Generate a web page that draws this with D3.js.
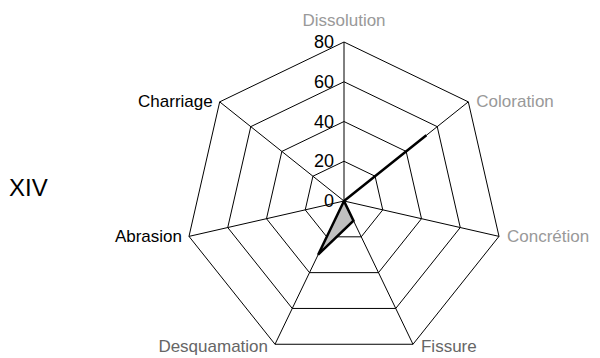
<!DOCTYPE html>
<html><head><meta charset="utf-8">
<script src="https://cdn.jsdelivr.net/npm/d3@7"></script>
<style>body{margin:0;background:#fff}svg{display:block;font-family:"Liberation Sans",Arial,sans-serif}</style>
</head><body><svg id="c" width="600" height="358"></svg>
<script>
const categories = ["Dissolution","Coloration","Concrétion","Fissure","Desquamation","Abrasion","Charriage"];
const values = [0, 53, 0, 11, 30, 0, 0];
const tickValues = [0, 20, 40, 60, 80];
const labelColors = ["#999","#999","#999","#666","#666","#000","#000"];
const title = "XIV";

const svg = d3.select("#c");
const cx = 344, cy = 201, R = 159;
const r = d3.scaleLinear().domain([0, 80]).range([0, R]);
const n = categories.length;
const ang = d3.scaleLinear().domain([0, n]).range([0, 2*Math.PI]);
const pt = (i, v) => [cx + r(v)*Math.sin(ang(i)), cy - r(v)*Math.cos(ang(i))];

const g = svg.append("g");
tickValues.filter(t => t > 0).forEach(t => {
  g.append("path")
    .attr("d", d3.line()(d3.range(n).map(i => pt(i, t))) + "Z")
    .attr("fill","none").attr("stroke","#000").attr("stroke-width",1);
});
d3.range(n).forEach(i => {
  const [x, y] = pt(i, 80);
  g.append("line").attr("x1",cx).attr("y1",cy).attr("x2",x).attr("y2",y)
    .attr("stroke","#000").attr("stroke-width",1);
});
svg.append("path")
  .attr("d", d3.line()(values.map((v,i) => pt(i, v))) + "Z")
  .attr("fill","#c0c0c0").attr("stroke","#000").attr("stroke-width",2.5).attr("stroke-linejoin","miter");

tickValues.forEach(t => {
  svg.append("text").attr("x", cx - 10).attr("y", cy - r(t))
    .attr("text-anchor","end").attr("dominant-baseline","central")
    .attr("font-size",18).attr("fill","#000").text(t);
});

categories.forEach((c, i) => {
  const [x, y] = pt(i, 80);
  const s = Math.sin(ang(i)), co = Math.cos(ang(i));
  let anchor = Math.abs(s) < 0.01 ? "middle" : (s > 0 ? "start" : "end");
  let dx = Math.abs(s) < 0.01 ? 0 : (s > 0 ? 8 : -7);
  let dy = 0;
  if (Math.abs(s) < 0.01) dy = -22;
  else if (co < -0.8) dy = 2;
  svg.append("text").attr("x", x + dx).attr("y", y + dy)
    .attr("text-anchor", anchor).attr("dominant-baseline","central")
    .attr("font-size",17).attr("fill", labelColors[i]).text(c);
});

svg.append("text").attr("x", 9).attr("y", 187).attr("dominant-baseline","central")
  .attr("font-size",24).attr("fill","#000").text(title);
</script></body></html>
